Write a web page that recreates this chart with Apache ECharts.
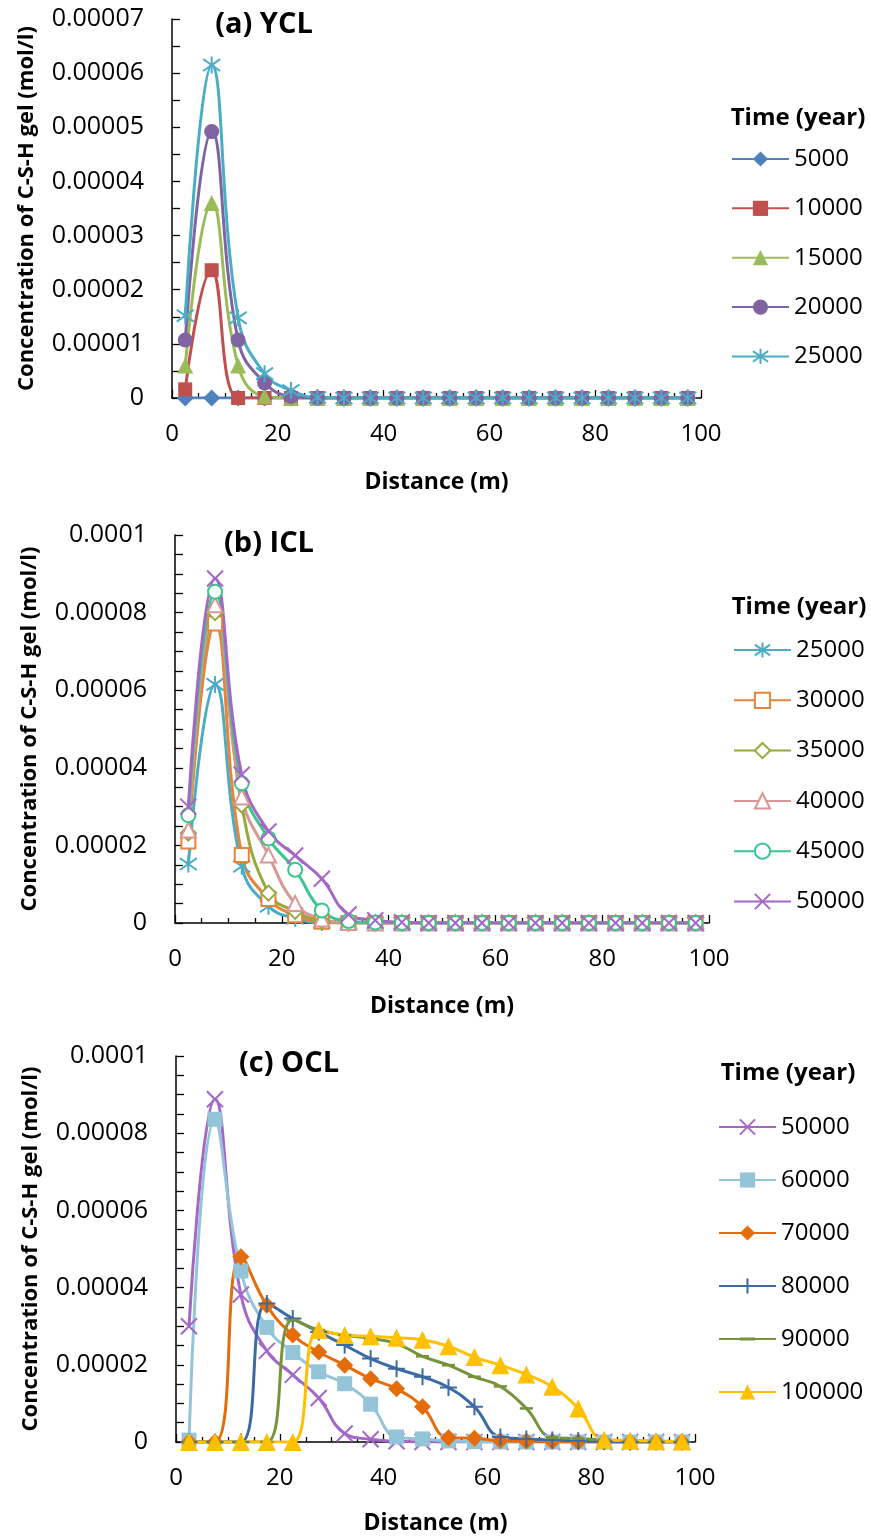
<!DOCTYPE html>
<html><head><meta charset="utf-8">
<script src="https://cdn.jsdelivr.net/npm/echarts@6/dist/echarts.min.js"></script>
<style>html,body{margin:0;padding:0;background:#fff}#c{width:871px;height:1537px}</style>
</head><body><div id="c"></div>
<script>
// Distance (m) of each computed cell
const distance = [2.5,7.5,12.5,17.5,22.5,27.5,32.5,37.5,42.5,47.5,52.5,57.5,62.5,67.5,72.5,77.5,82.5,87.5,92.5,97.5];

// (a) YCL
const a_t5000  = [0,0,0,0,0,0,0,0,0,0,0,0,0,0,0,0,0,0,0,0];
const a_t10000 = [1.6e-6,2.36e-5,0,0,0,0,0,0,0,0,0,0,0,0,0,0,0,0,0,0];
const a_t15000 = [6.0e-6,3.6e-5,6.0e-6,3e-7,0,0,0,0,0,0,0,0,0,0,0,0,0,0,0,0];
const a_t20000 = [1.07e-5,4.92e-5,1.07e-5,2.8e-6,3e-7,0,0,0,0,0,0,0,0,0,0,0,0,0,0,0];
const a_t25000 = [1.52e-5,6.15e-5,1.48e-5,4.5e-6,1.4e-6,1e-7,0,0,0,0,0,0,0,0,0,0,0,0,0,0];

// (b) ICL
const b_t25000 = [1.52e-5,6.15e-5,1.46e-5,4.3e-6,1.2e-6,1e-7,0,0,0,0,0,0,0,0,0,0,0,0,0,0];
const b_t30000 = [2.1e-5,7.72e-5,1.75e-5,6.2e-6,2.0e-6,3e-7,0,0,0,0,0,0,0,0,0,0,0,0,0,0];
const b_t35000 = [2.32e-5,8.0e-5,3.04e-5,7.7e-6,3.0e-6,5e-7,0,0,0,0,0,0,0,0,0,0,0,0,0,0];
const b_t40000 = [2.4e-5,8.2e-5,3.25e-5,1.75e-5,5.0e-6,1.0e-6,1e-7,0,0,0,0,0,0,0,0,0,0,0,0,0];
const b_t45000 = [2.78e-5,8.54e-5,3.6e-5,2.18e-5,1.37e-5,3.2e-6,5e-7,1e-7,0,0,0,0,0,0,0,0,0,0,0,0];
const b_t50000 = [3.0e-5,8.88e-5,3.82e-5,2.36e-5,1.74e-5,1.14e-5,2.2e-6,7e-7,2e-7,0,0,0,0,0,0,0,0,0,0,0];

// (c) OCL
const c_t50000  = [3.0e-5,8.88e-5,3.82e-5,2.36e-5,1.74e-5,1.14e-5,2.2e-6,7e-7,2e-7,0,0,0,0,0,0,0,0,0,0,0];
const c_t60000  = [5e-7,8.36e-5,4.43e-5,2.97e-5,2.32e-5,1.82e-5,1.51e-5,9.8e-6,1.3e-6,8e-7,3e-7,1e-7,0,0,0,0,0,0,0,0];
const c_t70000  = [0,0,4.8e-5,3.54e-5,2.77e-5,2.33e-5,1.99e-5,1.64e-5,1.38e-5,9.1e-6,1.1e-6,1.0e-6,3e-7,2e-7,1e-7,0,0,0,0,0];
const c_t80000  = [0,0,0,3.59e-5,3.2e-5,2.85e-5,2.51e-5,2.16e-5,1.9e-5,1.69e-5,1.41e-5,9.1e-6,1.3e-6,8e-7,5e-7,3e-7,1e-7,0,0,0];
const c_t90000  = [0,0,0,0,3.16e-5,2.9e-5,2.77e-5,2.68e-5,2.55e-5,2.22e-5,1.99e-5,1.69e-5,1.44e-5,8.7e-6,1.2e-6,9e-7,5e-7,3e-7,2e-7,1e-7];
const c_t100000 = [0,0,0,0,0,2.9e-5,2.77e-5,2.74e-5,2.7e-5,2.65e-5,2.48e-5,2.2e-5,1.99e-5,1.75e-5,1.43e-5,8.7e-6,6e-7,4e-7,2e-7,1e-7];

const xTicks = { min: 0, max: 100, interval: 20 };

const FONT = '"Open Sans", "Noto Sans", sans-serif';
const STAR = 'path://M5,0 L5,10 M0,1.5 L10,8.5 M10,1.5 L0,8.5';
const XMARK = 'path://M0,0 L10,10 M10,0 L0,10';
const PLUS = 'path://M5,0 L5,10 M0,5 L10,5';
const DASH = 'path://M0,0 M10,10 M0,4 L10,4 L10,6 L0,6 Z';

function pts(vals) { return distance.map((d, i) => [d, vals[i]]); }

function ser(name, vals, idx, color, symbol, size, strokeOnly) {
  const s = {
    name: name, type: 'line', xAxisIndex: idx, yAxisIndex: idx,
    data: pts(vals), smooth: 0.45, symbol: symbol, symbolSize: size,
    lineStyle: { color: color, width: 3 },
    itemStyle: { color: color },
    emphasis: { disabled: true }, animation: false
  };
  if (strokeOnly) { s.itemStyle.borderColor = color; s.itemStyle.borderWidth = 2; }
  return s;
}

const series = [
  ser('a5000',  a_t5000,  0, '#4F81BD', 'diamond', 17),
  ser('a10000', a_t10000, 0, '#C0504D', 'rect', 14),
  ser('a15000', a_t15000, 0, '#9BBB59', 'triangle', 16),
  ser('a20000', a_t20000, 0, '#8064A2', 'circle', 15),
  ser('a25000', a_t25000, 0, '#4BACC6', STAR, 17, true),

  ser('b25000', b_t25000, 1, '#4BACC6', STAR, 17, true),
  ser('b30000', b_t30000, 1, '#E8843A', 'emptyRect', 14),
  ser('b35000', b_t35000, 1, '#97A83D', 'emptyDiamond', 15),
  ser('b40000', b_t40000, 1, '#D99694', 'emptyTriangle', 15),
  ser('b45000', b_t45000, 1, '#3CC490', 'emptyCircle', 14),
  ser('b50000', b_t50000, 1, '#A467C8', XMARK, 16, true),

  ser('c50000',  c_t50000,  2, '#A467C8', XMARK, 16, true),
  ser('c60000',  c_t60000,  2, '#93C4D8', 'rect', 15),
  ser('c70000',  c_t70000,  2, '#E46C0A', 'diamond', 17),
  ser('c80000',  c_t80000,  2, '#3A6BA4', PLUS, 17, true),
  ser('c90000',  c_t90000,  2, '#77933C', DASH, 13),
  ser('c100000', c_t100000, 2, '#FFC000', 'triangle', 18)
];

function xAxis(idx, gap) {
  return {
    type: 'value', gridIndex: idx, min: xTicks.min, max: xTicks.max, interval: xTicks.interval,
    name: 'Distance (m)', nameLocation: 'middle', nameGap: gap,
    nameTextStyle: { fontFamily: FONT, fontWeight: 'bold', fontSize: 23, color: '#000' },
    axisLine: { show: true, onZero: false, lineStyle: { color: '#000', width: 1.5 } },
    axisTick: { show: true, inside: true, length: 8, lineStyle: { color: '#000', width: 1.3 } },
    minorTick: { show: true, splitNumber: 4, length: 5, lineStyle: { color: '#000', width: 1.3 } },
    axisLabel: { fontFamily: FONT, fontSize: 24, color: '#000', margin: 24 },
    splitLine: { show: false }
  };
}
function yAxis(idx, max, interval, minorSplit) {
  return {
    type: 'value', gridIndex: idx, min: 0, max: max, interval: interval,
    name: 'Concentration of C-S-H gel (mol/l)', nameLocation: 'middle', nameGap: 134, nameRotate: 90,
    nameTextStyle: { fontFamily: FONT, fontWeight: 'bold', fontSize: 22, color: '#000' },
    axisLine: { show: true, lineStyle: { color: '#000', width: 1.5 } },
    axisTick: { show: true, inside: true, length: 8, lineStyle: { color: '#000', width: 1.3 } },
    minorTick: { show: true, splitNumber: minorSplit, length: 8, lineStyle: { color: '#000', width: 1.3 } },
    axisLabel: { fontFamily: FONT, fontSize: 25, color: '#000', margin: 28,
      formatter: v => v === 0 ? '0' : String(+v.toPrecision(6)) },
    splitLine: { show: false }
  };
}
function legend(names, left, top, gap) {
  return {
    data: names, orient: 'vertical', left: left, top: top, padding: 0,
    itemWidth: 57, itemHeight: 19, itemGap: gap, selectedMode: false,
    formatter: n => n.slice(1),
    textStyle: { fontFamily: FONT, fontSize: 24, lineHeight: 24, color: '#000' }
  };
}
function txt(text, x, y, size) {
  return { type: 'text', x: x, y: y, silent: true,
    style: { text: text, align: 'center', verticalAlign: 'middle', fill: '#000',
      fontFamily: FONT, fontWeight: 'bold', fontSize: size } };
}

const chart = echarts.init(document.getElementById('c'), null, { renderer: 'canvas' });
chart.setOption({
  backgroundColor: '#fff',
  animation: false,
  textStyle: { fontFamily: FONT },
  grid: [
    { left: 172, top: 19, width: 529, height: 379 },
    { left: 175, top: 535, width: 534, height: 388 },
    { left: 176, top: 1056, width: 519, height: 386 }
  ],
  xAxis: [xAxis(0, 73), xAxis(1, 72), xAxis(2, 70)],
  yAxis: [yAxis(0, 7e-5, 1e-5, 2), yAxis(1, 1e-4, 2e-5, 4), yAxis(2, 1e-4, 2e-5, 4)],
  legend: [
    legend(['a5000','a10000','a15000','a20000','a25000'], 731, 147, 25.35),
    legend(['b25000','b30000','b35000','b40000','b45000','b50000'], 733, 638, 26.3),
    legend(['c50000','c60000','c70000','c80000','c90000','c100000'], 718, 1115, 29)
  ],
  graphic: [
    txt('(a) YCL', 264, 25, 29),
    txt('(b) ICL', 269, 544, 29),
    txt('(c) OCL', 289, 1064, 29),
    txt('Time (year)', 798, 118, 24),
    txt('Time (year)', 799, 607, 24),
    txt('Time (year)', 788, 1073, 24)
  ],
  series: series
});
</script></body></html>
